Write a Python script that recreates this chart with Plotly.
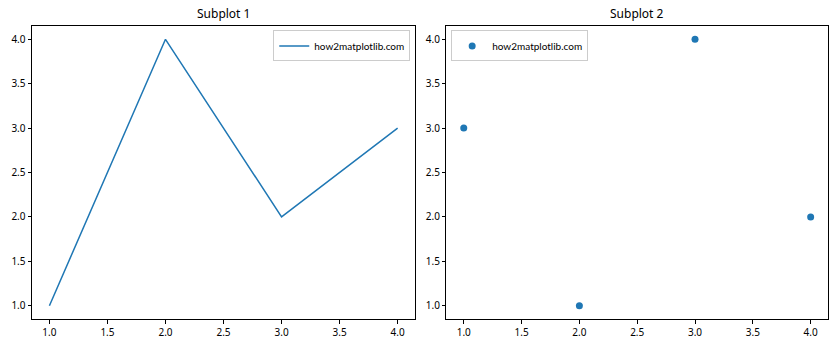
import plotly.graph_objects as go
from plotly.subplots import make_subplots

x_line = [1, 2, 3, 4]
y_line = [1, 4, 2, 3]
x_scatter = [1, 2, 3, 4]
y_scatter = [3, 1, 4, 2]
label = "how2matplotlib.com"
titles = ["Subplot 1", "Subplot 2"]
tick_vals = [1.0, 1.5, 2.0, 2.5, 3.0, 3.5, 4.0]
tick_text = ["1.0", "1.5", "2.0", "2.5", "3.0", "3.5", "4.0"]

color = "#1f77b4"
font = "Noto Sans, Open Sans, sans-serif"
lfont = "Lato, Noto Sans, sans-serif"

fig = make_subplots(rows=1, cols=2, horizontal_spacing=0.0394)
fig.add_trace(go.Scatter(x=x_line, y=y_line, mode="lines", name=label, showlegend=True,
                         line=dict(color=color, width=1.5), legend="legend"), 1, 1)
fig.add_trace(go.Scatter(x=x_scatter, y=y_scatter, mode="markers", name=label, showlegend=True,
                         marker=dict(color=color, size=7), legend="legend2"), 1, 2)

axis_common = dict(showline=True, linecolor="black", linewidth=1, mirror=True,
                   ticks="outside", ticklen=3.5, tickwidth=1, tickcolor="black",
                   showgrid=False, zeroline=False, range=[0.85, 4.15],
                   tickvals=tick_vals, ticktext=tick_text,
                   tickfont=dict(size=10, color="black", family=font))
for i in (1, 2):
    fig.update_xaxes(axis_common, row=1, col=i)
    fig.update_yaxes(axis_common, row=1, col=i)

fig.update_xaxes(domain=[0, 0.4812], row=1, col=1)
fig.update_xaxes(domain=[0.5206, 1], row=1, col=2)

ann = []
for t, xc in zip(titles, [0.4812 / 2, (0.5206 + 1) / 2]):
    ann.append(dict(text=t, x=xc, y=1.0, xref="paper", yref="paper",
                    xanchor="center", yanchor="bottom", yshift=2, showarrow=False,
                    font=dict(size=12, color="black", family=font)))

legend_style = dict(bgcolor="rgba(255,255,255,0.8)", bordercolor="#cccccc", borderwidth=1,
                    font=dict(size=10, color="black", family=lfont), yanchor="top",
                    itemwidth=30)
fig.update_layout(
    width=840, height=350,
    margin=dict(l=31, r=11, t=26, b=29),
    plot_bgcolor="white", paper_bgcolor="white",
    annotations=ann,
    showlegend=True,
    legend=dict(legend_style, x=0.4812 - 0.006, xanchor="right", y=0.985),
    legend2=dict(legend_style, x=0.5206 + 0.006, xanchor="left", y=0.985),
    font=dict(family=font),
)

fig.write_html("out.html")
